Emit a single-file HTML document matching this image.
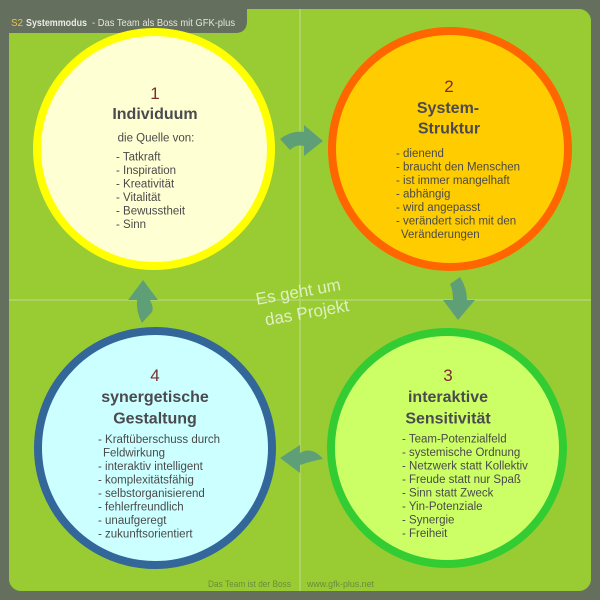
<!DOCTYPE html>
<html>
<head>
<meta charset="utf-8">
<style>
html,body{margin:0;padding:0;width:600px;height:600px;overflow:hidden;background:#646f5e;}
svg{display:block;}
text{font-family:"Liberation Sans",Arial,sans-serif;}
.num{font-size:17px;fill:#7a2e2e;text-anchor:middle;}
.ttl{font-size:16px;font-weight:bold;fill:#4a4a4f;text-anchor:middle;}
.li{font-size:11.5px;fill:#4a4a4a;}
</style>
</head>
<body>
<svg width="600" height="600" viewBox="0 0 600 600" xmlns="http://www.w3.org/2000/svg">
  <rect x="0" y="0" width="600" height="600" fill="#646f5e"/>
  <!-- green panel -->
  <rect x="9" y="9" width="582" height="582" rx="12" ry="12" fill="#99cc33"/>
  <!-- tab -->
  <path d="M0,0 H247 V21 Q247,33 235,33 H0 Z" fill="#646f5e"/>
  <text x="11" y="26" font-size="10.5" fill="#e6c25a" textLength="12" lengthAdjust="spacingAndGlyphs">S2</text>
  <text x="26" y="26" font-size="10.5" font-weight="bold" fill="#ecece6" textLength="61" lengthAdjust="spacingAndGlyphs">Systemmodus</text>
  <text x="92" y="26" font-size="10.5" fill="#e6e6de" textLength="143" lengthAdjust="spacingAndGlyphs">- Das Team als Boss mit GFK-plus</text>

  <!-- grid lines -->
  <line x1="300" y1="9" x2="300" y2="591" stroke="#b4d672" stroke-width="1.5"/>
  <line x1="9" y1="300" x2="591" y2="300" stroke="#b4d672" stroke-width="1.5"/>

  <!-- circles -->
  <circle cx="154" cy="149" r="117" fill="#ffffd4" stroke="#ffff00" stroke-width="8"/>
  <circle cx="450" cy="149" r="118" fill="#ffcc00" stroke="#ff6600" stroke-width="8"/>
  <circle cx="447" cy="448" r="116" fill="#ccff66" stroke="#33cc33" stroke-width="8"/>
  <circle cx="155" cy="448" r="117" fill="#ccffff" stroke="#336699" stroke-width="8"/>

  <!-- arrows -->
  <g fill="#5f9f78">
    <path d="M280,139 Q292,130 304,132 L304,125 L323,141 L304,156 L304,146 Q296,144 290,150 Z"/>
    <path d="M458,320 L443,300 L453,300 Q453,290 450,284 L460,277 Q467,288 467,300 L475,300 Z"/>
    <path d="M280,458 L300,445 L300,453 Q312,446 323,459 Q312,461 300,465 L300,473 Z"/>
    <path d="M143,280 L158,300 L150,300 Q154,308 152,312 L142,323 Q136,312 137,300 L128,300 Z"/>
  </g>

  <!-- center text -->
  <g transform="rotate(-10 302 302)" fill="#def0c2" font-size="17">
    <text x="300" y="297" text-anchor="middle">Es geht um</text>
    <text x="305" y="319" text-anchor="middle">das Projekt</text>
  </g>

  <!-- circle 1 -->
  <text class="num" x="155" y="99">1</text>
  <text class="ttl" x="155" y="119">Individuum</text>
  <text class="li" x="156" y="141.7" text-anchor="middle">die Quelle von:</text>
  <text class="li" x="116" y="160.5">- Tatkraft</text>
  <text class="li" x="116" y="174">- Inspiration</text>
  <text class="li" x="116" y="187.5">- Kreativität</text>
  <text class="li" x="116" y="201">- Vitalität</text>
  <text class="li" x="116" y="214.5">- Bewusstheit</text>
  <text class="li" x="116" y="228">- Sinn</text>

  <!-- circle 2 -->
  <text class="num" x="449" y="92">2</text>
  <text class="ttl" x="448" y="113">System-</text>
  <text class="ttl" x="449" y="133.5">Struktur</text>
  <text class="li" x="396" y="157">- dienend</text>
  <text class="li" x="396" y="170.5">- braucht den Menschen</text>
  <text class="li" x="396" y="184">- ist immer mangelhaft</text>
  <text class="li" x="396" y="197.5">- abhängig</text>
  <text class="li" x="396" y="211">- wird angepasst</text>
  <text class="li" x="396" y="224.5">- verändert sich mit den</text>
  <text class="li" x="401" y="238">Veränderungen</text>

  <!-- circle 3 -->
  <text class="num" x="448" y="381">3</text>
  <text class="ttl" x="448" y="402">interaktive</text>
  <text class="ttl" x="448" y="423.5">Sensitivität</text>
  <text class="li" x="402" y="442.5">- Team-Potenzialfeld</text>
  <text class="li" x="402" y="456">- systemische Ordnung</text>
  <text class="li" x="402" y="469.5">- Netzwerk statt Kollektiv</text>
  <text class="li" x="402" y="483">- Freude statt nur Spaß</text>
  <text class="li" x="402" y="496.5">- Sinn statt Zweck</text>
  <text class="li" x="402" y="510">- Yin-Potenziale</text>
  <text class="li" x="402" y="523.5">- Synergie</text>
  <text class="li" x="402" y="537">- Freiheit</text>

  <!-- circle 4 -->
  <text class="num" x="155" y="381">4</text>
  <text class="ttl" x="155" y="402">synergetische</text>
  <text class="ttl" x="155" y="423.5">Gestaltung</text>
  <text class="li" x="98" y="443">- Kraftüberschuss durch</text>
  <text class="li" x="103" y="456.5">Feldwirkung</text>
  <text class="li" x="98" y="470">- interaktiv intelligent</text>
  <text class="li" x="98" y="483.5">- komplexitätsfähig</text>
  <text class="li" x="98" y="497">- selbstorganisierend</text>
  <text class="li" x="98" y="510.5">- fehlerfreundlich</text>
  <text class="li" x="98" y="524">- unaufgeregt</text>
  <text class="li" x="98" y="537.5">- zukunftsorientiert</text>

  <!-- footer -->
  <text x="208" y="587" font-size="9.5" fill="#6a8c3c" textLength="83" lengthAdjust="spacingAndGlyphs">Das Team ist der Boss</text>
  <text x="307" y="587" font-size="9.5" fill="#6a8c3c" textLength="67" lengthAdjust="spacingAndGlyphs">www.gfk-plus.net</text>
</svg>
</body>
</html>
